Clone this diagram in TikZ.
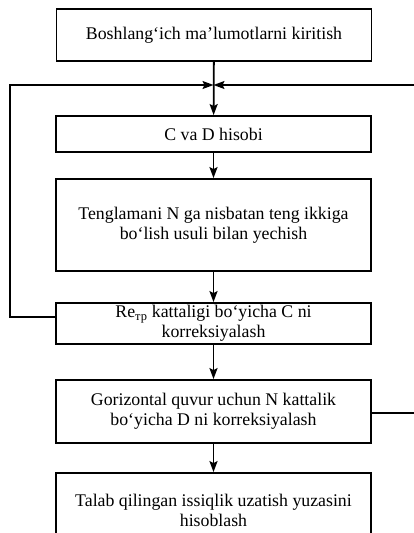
\documentclass[tikz,border=0pt]{standalone}
\usepackage{fontspec}
\setmainfont{Liberation Serif}
\usetikzlibrary{arrows.meta}
\begin{document}
\begin{tikzpicture}[x=1pt,y=-1pt,
  box/.style={draw, line width=1.8pt, minimum width=315pt, align=center, inner sep=0pt,
    font=\fontsize{17.8}{20}\selectfont},
  conn/.style={line width=1.8pt},
  arr/.style={conn, -{Stealth[length=11pt,width=8pt,inset=2pt]}}]
\useasboundingbox (0,0) rectangle (414,533);
\node[box, minimum height=52pt] (b1) at (214,35) {Boshlang‘ich ma’lumotlarni kiritish};
\node[box, minimum height=36pt] (b2) at (213.5,134) {C va D hisobi};
\node[box, minimum height=92pt] (b3) at (213.5,225) {Tenglamani N ga nisbatan teng ikkiga\\bo‘lish usuli bilan yechish};
\node[box, minimum height=41pt, text depth=4pt] (b4) at (213.5,323.5) {Re\textsubscript{тр} kattaligi bo‘yicha C ni\\korreksiyalash};
\node[box, minimum height=63pt] (b5) at (213.5,411.5) {Gorizontal quvur uchun N kattalik\\bo‘yicha D ni korreksiyalash};
\node[box, minimum height=74pt] (b6) at (213.5,510) {Talab qilingan issiqlik uzatish yuzasini\\hisoblash};
\coordinate (J) at (213.5,85);
\coordinate (L1) at (10,317);
\coordinate (L2) at (10,85);
\coordinate (R1) at (440,413);
\coordinate (R2) at (440,85);
\draw[arr] (b1) -- (b2);
\draw[arr] (b2) -- (b3);
\draw[arr] (b3) -- (b4);
\draw[arr] (b4) -- (b5);
\draw[arr] (b5) -- (b6);
\draw[arr] (b4.west |- L1) -- (L1) -- (L2) -- (J);
\draw[arr] (b5.east |- R1) -- (R1) -- (R2) -- (J);
\end{tikzpicture}
\end{document}
